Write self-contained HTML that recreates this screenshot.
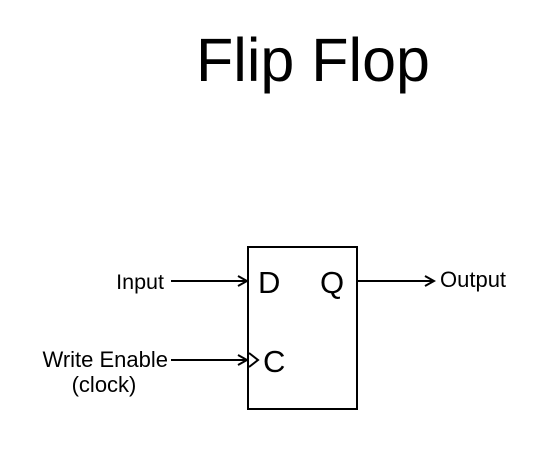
<!DOCTYPE html>
<html><head><style>
html,body{margin:0;padding:0;background:#fff;width:546px;height:474px;overflow:hidden}
</style></head><body>
<svg width="546" height="474" xmlns="http://www.w3.org/2000/svg" font-family="Liberation Sans, Arial, sans-serif">
<defs><marker id="a" markerWidth="12" markerHeight="12" refX="10" refY="6" orient="auto" markerUnits="userSpaceOnUse"><path d="M1,1 L10,6 L1,11" fill="none" stroke="#000" stroke-width="2"/></marker></defs>
<text x="313" y="81" font-size="61" text-anchor="middle">Flip Flop</text>
<rect x="248" y="247" width="109" height="162" fill="none" stroke="#000" stroke-width="2"/>
<line x1="171" y1="281" x2="247" y2="281" stroke="#000" stroke-width="2" marker-end="url(#a)"/>
<line x1="357" y1="281" x2="434" y2="281" stroke="#000" stroke-width="2" marker-end="url(#a)"/>
<line x1="171" y1="360" x2="247" y2="360" stroke="#000" stroke-width="2" marker-end="url(#a)"/>
<path d="M249,353 L258,360 L249,367" fill="none" stroke="#000" stroke-width="2"/>
<text x="164" y="289" font-size="21.5" text-anchor="end">Input</text>
<text x="440" y="287" font-size="22">Output</text>
<text x="168" y="367" font-size="22" text-anchor="end">Write Enable</text>
<text x="104" y="392" font-size="22" text-anchor="middle">(clock)</text>
<text x="258" y="293" font-size="31">D</text>
<text x="320" y="293" font-size="31">Q</text>
<text x="263" y="372" font-size="31">C</text>
</svg>
</body></html>
